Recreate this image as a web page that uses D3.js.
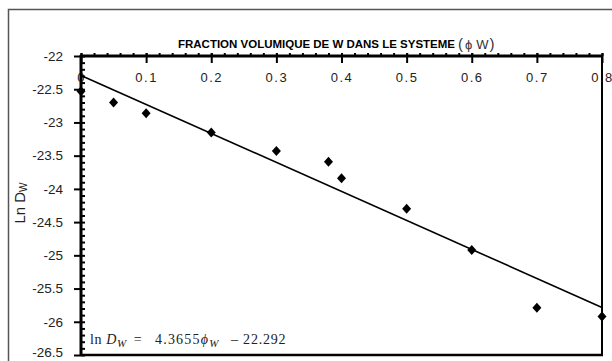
<!DOCTYPE html>
<html><head><meta charset="utf-8">
<script src="https://cdn.jsdelivr.net/npm/d3@7"></script>
<style>
html,body{margin:0;padding:0;background:#fff;}
svg{display:block;}
.tick text{font-family:'Liberation Sans Narrow','Arial Narrow','Liberation Sans',Arial,sans-serif;fill:#222;}
</style></head>
<body><svg id="c" width="612" height="361"></svg>
<script>
const phi = [0, 0.05, 0.1, 0.2, 0.3, 0.38, 0.4, 0.5, 0.6, 0.7, 0.8];
const lnD = [-22.53, -22.70, -22.86, -23.15, -23.43, -23.59, -23.84, -24.30, -24.92, -25.79, -25.92];
const fitSlope = -4.3655;
const fitIntercept = -22.292;
const xMajor = [0, 0.1, 0.2, 0.3, 0.4, 0.5, 0.6, 0.7, 0.8];
const xMinor = d3.range(0, 41).map(i => i * 0.02);
const yMajor = [-22, -22.5, -23, -23.5, -24, -24.5, -25, -25.5, -26, -26.5];
const yMinor = d3.range(0, 46).map(i => -22 - i * 0.1);
const xTitle = "FRACTION VOLUMIQUE DE W DANS LE SYSTEME";

const svg = d3.select("#c");
const L = 81, R = 602, T = 56, B = 355;
const x = d3.scaleLinear().domain([0, 0.8]).range([L, R]);
const y = d3.scaleLinear().domain([-22, -26.5]).range([T, B]);
const sans = "'Liberation Sans Narrow','Arial Narrow','Liberation Sans',Arial,sans-serif";

// outer frame
svg.append("path").attr("d", "M8.5,361 L8.5,9.5 L612,9.5").attr("fill","none").attr("stroke","#555").attr("stroke-width",1.5);

// right & bottom plot lines
svg.append("line").attr("x1",R).attr("x2",R).attr("y1",T).attr("y2",B).attr("stroke","#000").attr("stroke-width",2);
svg.append("line").attr("x1",L).attr("x2",R+1).attr("y1",B).attr("y2",B).attr("stroke","#000").attr("stroke-width",2.5);

// top axis minor ticks (upwards)
const gxm = svg.append("g").attr("transform",`translate(0,${T})`)
  .call(d3.axisTop(x).tickValues(xMinor).tickSize(3).tickFormat(""));
gxm.selectAll("line").attr("stroke","#000").attr("stroke-width",2);
gxm.select(".domain").remove();
// top axis major ticks (crossing, labels below)
const gx = svg.append("g").attr("transform",`translate(0,${T})`)
  .call(d3.axisBottom(x).tickValues(xMajor).tickSize(7).tickPadding(10)
    .tickFormat(d => d === 0 ? "0" : d3.format(".1f")(d)));
gx.select(".domain").remove();
gx.selectAll("line").attr("y1",-3).attr("stroke","#000").attr("stroke-width",2);
gx.selectAll("text").attr("font-size",13).attr("letter-spacing","1.5px").attr("fill","#222");
svg.append("line").attr("x1",L-1).attr("x2",R+1).attr("y1",T).attr("y2",T).attr("stroke","#000").attr("stroke-width",3);

// left axis minor (inwards)
const gym = svg.append("g").attr("transform",`translate(${L},0)`)
  .call(d3.axisRight(y).tickValues(yMinor).tickSize(4).tickFormat(""));
gym.select(".domain").remove();
gym.selectAll("line").attr("stroke","#000").attr("stroke-width",2);
const gy = svg.append("g").attr("transform",`translate(${L},0)`)
  .call(d3.axisLeft(y).tickValues(yMajor).tickSize(7).tickPadding(11).tickFormat(d => String(d)));
gy.select(".domain").remove();
gy.selectAll("line").attr("stroke","#000").attr("stroke-width",2);
gy.selectAll("text").attr("font-size",13.5).attr("fill","#222");
gy.selectAll(".tick").filter(d => d === -26.5).select("text").attr("dy","0.1em");
svg.append("line").attr("x1",L).attr("x2",L).attr("y1",T-1).attr("y2",B+1).attr("stroke","#000").attr("stroke-width",3);

// fit line
svg.append("line")
  .attr("x1", x(0)).attr("y1", y(fitIntercept))
  .attr("x2", x(0.8)).attr("y2", y(fitIntercept + fitSlope*0.8))
  .attr("stroke","#000").attr("stroke-width",1.6);

// points (diamonds)
svg.append("g").selectAll("path").data(phi.map((p,i)=>[p,lnD[i]])).join("path")
  .attr("transform", d => `translate(${x(d[0])},${y(d[1])})`)
  .attr("d", "M0,-5 L4.5,0 L0,5 L-4.5,0 Z").attr("fill","#000");

// x title
svg.append("text").attr("x", 178).attr("y", 48)
  .attr("font-family", sans).attr("font-weight","bold").attr("font-size",10.5)
  .attr("textLength", 277).attr("lengthAdjust","spacingAndGlyphs").text(xTitle);
const tp = svg.append("text").attr("x", 458).attr("y", 49).attr("font-family", sans).attr("fill","#333");
tp.append("tspan").attr("font-size",15).text("(");
tp.append("tspan").attr("font-size",13).attr("dx",2).text("\u03D5");
tp.append("tspan").attr("font-size",13).attr("dx",4).text("W");
tp.append("tspan").attr("font-size",15).attr("dx",1).text(")");

// y title
const yt = svg.append("text").attr("transform","translate(25,203) rotate(-90)")
  .attr("text-anchor","middle")
  .attr("font-family", sans)
  .attr("font-size",15).attr("fill","#222");
yt.append("tspan").text("Ln D");
yt.append("tspan").attr("font-size",10).attr("dy",2).text("W");

// equation
const serif = "'Liberation Serif','Times New Roman',serif";
const e1 = svg.append("text").attr("x", 90).attr("y", 344).attr("font-family", serif).attr("font-size",14).attr("fill","#222").attr("letter-spacing","0.6px");
e1.append("tspan").text("ln ");
e1.append("tspan").attr("font-style","italic").text("D");
e1.append("tspan").attr("font-style","italic").attr("font-size",11).attr("dy",3).text("W");
e1.append("tspan").attr("dy",-3).attr("dx",3).text(" =");
const e2 = svg.append("text").attr("x", 155).attr("y", 344).attr("font-family", serif).attr("font-size",14).attr("fill","#222").attr("letter-spacing","1.2px");
e2.append("tspan").text("4.3655");
e2.append("tspan").attr("font-style","italic").text("\u03D5");
e2.append("tspan").attr("font-style","italic").attr("font-size",11).attr("dy",3).text("W");
svg.append("text").attr("x", 231).attr("y", 344).attr("font-family", serif).attr("font-size",14).attr("fill","#222").attr("letter-spacing","0.8px")
  .text("\u2013 22.292");
</script></body></html>
